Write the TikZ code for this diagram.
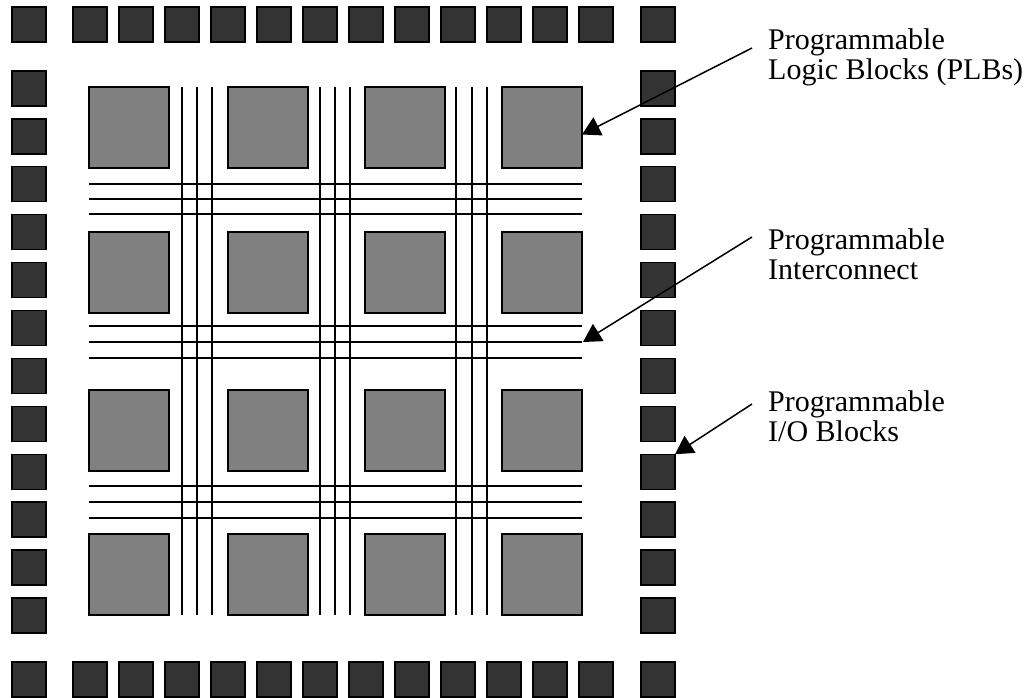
\documentclass[tikz,border=0pt]{standalone}
\usepackage{fontspec}
\setmainfont{Liberation Serif}
\usetikzlibrary{arrows.meta}
\definecolor{iogray}{HTML}{333333}
\definecolor{plbgray}{HTML}{808080}
\begin{document}
\begin{tikzpicture}[x=1pt,y=-1pt,
  iob/.style={draw=black,fill=iogray,line width=1.3pt,minimum width=34pt,minimum height=35pt,inner sep=0pt,outer sep=0pt,anchor=north west},
  plb/.style={draw=black,fill=plbgray,line width=1.3pt,minimum width=80pt,minimum height=81pt,inner sep=0pt,outer sep=0pt,anchor=north west},
  wire/.style={line width=1.3pt},
  thickwire/.style={line width=1.8pt},
  lbl/.style={font=\fontsize{30}{30}\selectfont,align=left,anchor=north west,inner sep=0pt},
  pointer/.style={line width=1.5pt,-{Triangle[length=18pt,width=20pt]}}]
\useasboundingbox[fill=white] (0,0) rectangle (1031,698);
% I/O blocks
\node[iob] (c1) at (12,7) {};
\node[iob] (c2) at (641,7) {};
\node[iob] (c3) at (12,662) {};
\node[iob] (c4) at (641,662) {};
\foreach \i in {0,...,11}{
  \node[iob] (t\i) at ({73+46*\i},7) {};
  \node[iob] (b\i) at ({73+46*\i},662) {};
  \node[iob] (l\i) at (12,{71+47.9*\i}) {};
  \node[iob] (r\i) at (641,{71+47.9*\i}) {};
}
% interconnect
\foreach \x in {182,320,456}
  \draw[thickwire] (\x,87) -- (\x,615);
\foreach \x in {197,212,335,350,472,487}
  \draw[wire] (\x,87) -- (\x,615);
\foreach \y in {184,199,214,326,342,358,486,502,518}
  \draw[wire] (89,\y) -- (582,\y);
% PLBs
\foreach \r/\y in {1/87,2/232,3/390,4/534}
  \foreach \c/\x in {1/89,2/228,3/365,4/502}
    \node[plb] (p\r\c) at (\x,\y) {};
% labels
\node[lbl] (lab1) at (768,28) {Programmable\\Logic Blocks (PLBs)};
\node[lbl] (lab2) at (768,228) {Programmable\\Interconnect};
\node[lbl] (lab3) at (768,390) {Programmable\\I/O Blocks};
\coordinate (s1) at (752,48);
\coordinate (s2) at (752,237);
\coordinate (s3) at (752,404);
\coordinate (e2) at (583,342);
\draw[pointer] (s1) -- ([yshift=-7pt]p14.east);
\draw[pointer] (s2) -- (e2);
\draw[pointer] (s3) -- (r8.north east);
\end{tikzpicture}
\end{document}
